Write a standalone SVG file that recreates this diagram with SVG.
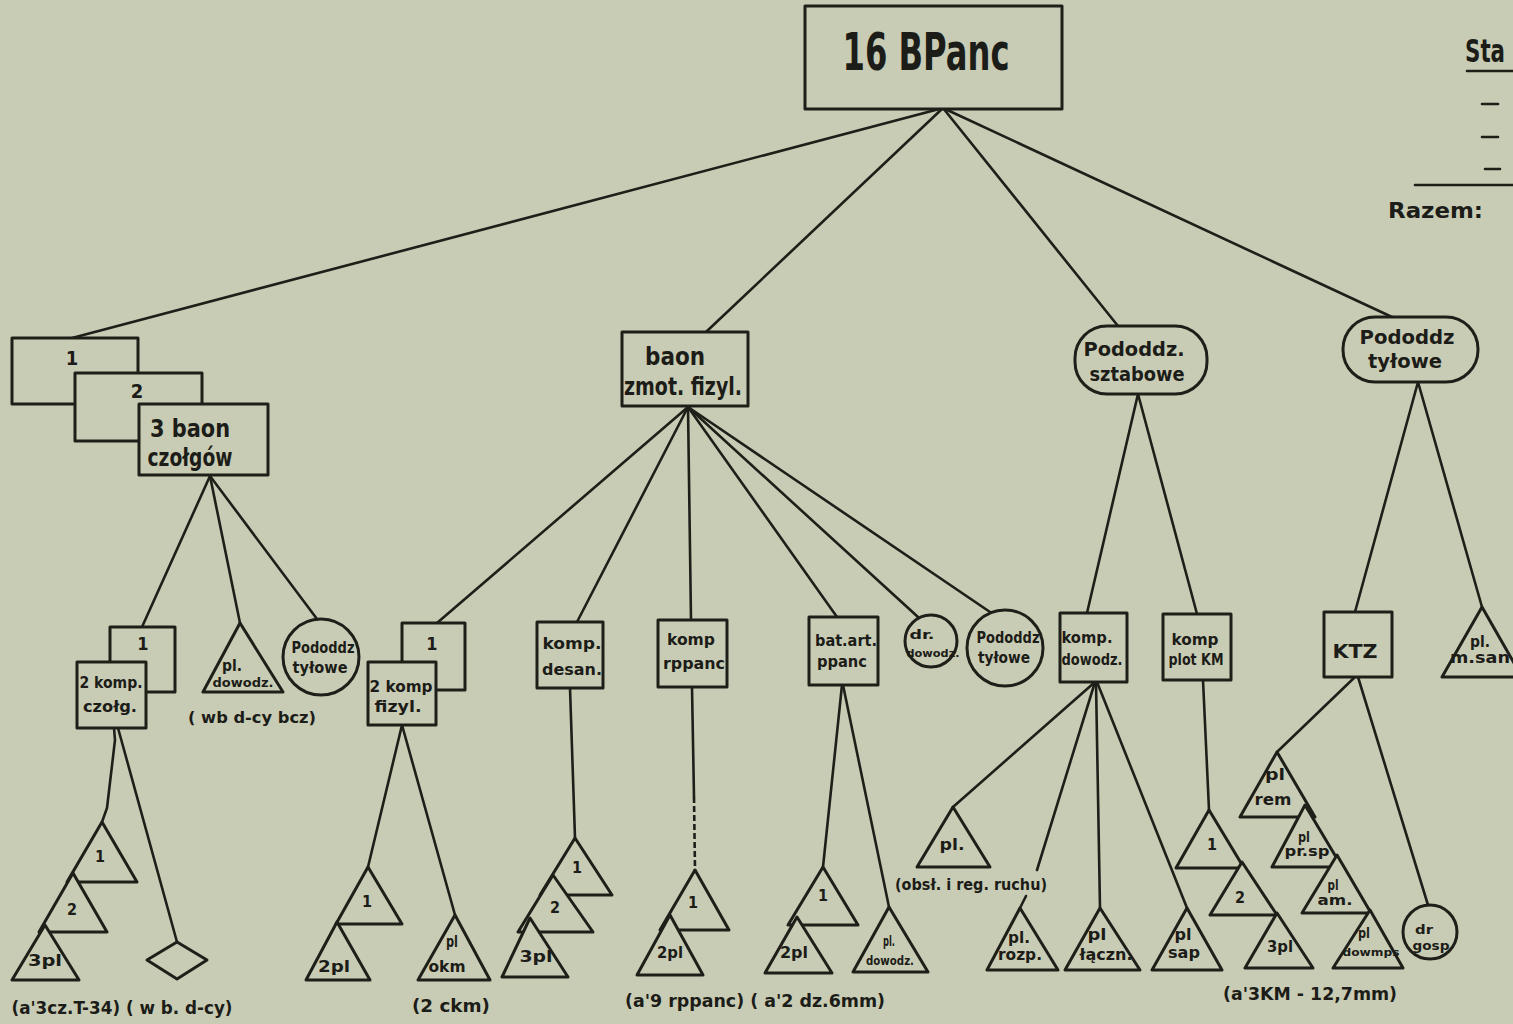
<svg xmlns="http://www.w3.org/2000/svg" width="1513" height="1024" viewBox="0 0 1513 1024">
<style>
.t{font-family:"DejaVu Sans Condensed","DejaVu Sans",sans-serif;font-weight:bold;fill:#1c1c18;text-anchor:middle;}
.ts{font-family:"DejaVu Sans Condensed","DejaVu Sans",sans-serif;font-weight:bold;fill:#1c1c18;text-anchor:start;}
.sh{fill:#c9ccb4;stroke:#1f1f1a;stroke-width:3;stroke-linejoin:round;}
.ln{stroke:#1f1f1a;stroke-width:2.6;fill:none;stroke-linecap:round;}
</style>
<rect x="0" y="0" width="1513" height="1024" fill="#c9ccb4"/>

<g id="connectors" class="ln">
<line x1="943" y1="108" x2="72" y2="338"/>
<line x1="943" y1="108" x2="706" y2="332"/>
<line x1="943" y1="108" x2="1118" y2="326"/>
<line x1="943" y1="108" x2="1392" y2="317"/>
<line x1="210" y1="476" x2="142" y2="627"/>
<line x1="210" y1="476" x2="240" y2="623"/>
<line x1="210" y1="476" x2="317" y2="619"/>
<polyline points="114,728 115,740 107,808 102,822"/>
<line x1="118" y1="728" x2="177" y2="942"/>
<line x1="688" y1="407" x2="437" y2="623"/>
<line x1="688" y1="407" x2="577" y2="622"/>
<line x1="688" y1="407" x2="691" y2="620"/>
<line x1="688" y1="407" x2="837" y2="617"/>
<line x1="688" y1="407" x2="918" y2="617"/>
<line x1="688" y1="407" x2="990" y2="612"/>
<line x1="402" y1="725" x2="368" y2="867"/>
<line x1="402" y1="725" x2="455" y2="915"/>
<line x1="570" y1="688" x2="575" y2="838"/>
<line x1="692" y1="687" x2="694" y2="797"/>
<line x1="694" y1="797" x2="695" y2="870" stroke-dasharray="6 3" stroke-linecap="butt"/>
<line x1="842" y1="685" x2="823" y2="867"/>
<line x1="843" y1="685" x2="889" y2="907"/>
<line x1="1138" y1="394" x2="1087" y2="613"/>
<line x1="1138" y1="394" x2="1197" y2="614"/>
<line x1="1095" y1="682" x2="953" y2="807"/>
<line x1="1095" y1="682" x2="1037" y2="870"/>
<line x1="1026" y1="896" x2="1020" y2="908"/>
<line x1="1096" y1="682" x2="1100" y2="908"/>
<line x1="1097" y1="682" x2="1187" y2="908"/>
<line x1="1203" y1="680" x2="1209" y2="810"/>
<line x1="1418" y1="382" x2="1355" y2="612"/>
<line x1="1418" y1="382" x2="1482" y2="607"/>
<line x1="1355" y1="677" x2="1277" y2="752"/>
<line x1="1358" y1="677" x2="1428" y2="905"/>
</g>

<g id="n-16bpanc">
<rect class="sh" x="805" y="6" width="257" height="103"/>
<text class="t" x="926" y="70" font-size="52" textLength="167" lengthAdjust="spacingAndGlyphs">16 BPanc</text>
</g>

<g id="n-baon-czolgow">
<rect class="sh" x="12" y="338" width="126" height="66"/>
<text class="t" x="72" y="365" font-size="20">1</text>
<rect class="sh" x="75" y="373" width="127" height="68"/>
<text class="t" x="137" y="398" font-size="20">2</text>
<rect class="sh" x="139" y="404" width="129" height="71"/>
<text class="t" x="190" y="437" font-size="24" textLength="80" lengthAdjust="spacingAndGlyphs">3 baon</text>
<text class="t" x="190" y="466" font-size="24" textLength="85" lengthAdjust="spacingAndGlyphs">czołgów</text>
</g>

<g id="n-baon-zmot">
<rect class="sh" x="622" y="332" width="126" height="74"/>
<text class="t" x="675" y="365" font-size="25" textLength="60" lengthAdjust="spacingAndGlyphs">baon</text>
<text class="t" x="683" y="395" font-size="24" textLength="118" lengthAdjust="spacingAndGlyphs">zmot. fizyl.</text>
</g>

<g id="n-sztabowe">
<rect class="sh" x="1075" y="326" width="132" height="68" rx="32"/>
<text class="t" x="1134" y="356" font-size="20" textLength="101" lengthAdjust="spacingAndGlyphs">Pododdz.</text>
<text class="t" x="1137" y="381" font-size="20" textLength="95" lengthAdjust="spacingAndGlyphs">sztabowe</text>
</g>

<g id="n-tylowe">
<rect class="sh" x="1343" y="317" width="135" height="65" rx="32"/>
<text class="t" x="1407" y="344" font-size="20" textLength="95" lengthAdjust="spacingAndGlyphs">Pododdz</text>
<text class="t" x="1405" y="368" font-size="20" textLength="74" lengthAdjust="spacingAndGlyphs">tyłowe</text>
</g>

<g id="n-komp-czolg">
<rect class="sh" x="110" y="627" width="65" height="65"/>
<text class="t" x="143" y="650" font-size="18">1</text>
<rect class="sh" x="77" y="662" width="69" height="66"/>
<text class="t" x="111" y="688" font-size="16" textLength="63" lengthAdjust="spacingAndGlyphs">2 komp.</text>
<text class="t" x="110" y="712" font-size="16" textLength="54" lengthAdjust="spacingAndGlyphs">czołg.</text>
</g>

<g id="n-pl-dowodz-1">
<polygon class="sh" points="240,623 203,692 283,692"/>
<text class="t" x="232" y="671" font-size="16" textLength="20" lengthAdjust="spacingAndGlyphs">pl.</text>
<text class="t" x="243" y="687" font-size="13" textLength="61" lengthAdjust="spacingAndGlyphs">dowodz.</text>
<text class="t" x="252" y="723" font-size="15" textLength="128" lengthAdjust="spacingAndGlyphs">( wb d-cy bcz)</text>
</g>

<g id="n-tylowe-1">
<circle class="sh" cx="321" cy="657" r="38"/>
<text class="t" x="323" y="653" font-size="15" textLength="63" lengthAdjust="spacingAndGlyphs">Pododdz</text>
<text class="t" x="320" y="673" font-size="15" textLength="55" lengthAdjust="spacingAndGlyphs">tyłowe</text>
</g>

<g id="n-pl-czolg">
<polygon class="sh" points="102,822 67,882 137,882"/>
<text class="t" x="100" y="862" font-size="16">1</text>
<polygon class="sh" points="73,873 39,932 107,932"/>
<text class="t" x="72" y="915" font-size="16">2</text>
<polygon class="sh" points="45,925 12,980 79,980"/>
<text class="t" x="45" y="966" font-size="16" textLength="34" lengthAdjust="spacingAndGlyphs">3pl</text>
<text class="t" x="122" y="1014" font-size="17" textLength="221" lengthAdjust="spacingAndGlyphs">(a'3cz.T-34) ( w b. d-cy)</text>
</g>

<g id="n-wb-dcy">
<polygon class="sh" points="177,942 207,960 177,979 147,960"/>
</g>

<g id="n-komp-fizyl">
<rect class="sh" x="402" y="623" width="63" height="67"/>
<text class="t" x="432" y="650" font-size="18">1</text>
<rect class="sh" x="368" y="662" width="68" height="63"/>
<text class="t" x="401" y="692" font-size="16" textLength="63" lengthAdjust="spacingAndGlyphs">2 komp</text>
<text class="t" x="398" y="712" font-size="16" textLength="47" lengthAdjust="spacingAndGlyphs">fizyl.</text>
</g>

<g id="n-pl-fizyl">
<polygon class="sh" points="368,867 336,924 402,924"/>
<text class="t" x="367" y="907" font-size="16">1</text>
<polygon class="sh" points="337,922 306,980 370,980"/>
<text class="t" x="334" y="972" font-size="16" textLength="32" lengthAdjust="spacingAndGlyphs">2pl</text>
</g>

<g id="n-pl-okm">
<polygon class="sh" points="455,915 418,980 490,980"/>
<text class="t" x="452" y="947" font-size="15" textLength="12" lengthAdjust="spacingAndGlyphs">pl</text>
<text class="t" x="447" y="972" font-size="15" textLength="37" lengthAdjust="spacingAndGlyphs">okm</text>
<text class="t" x="451" y="1012" font-size="17" textLength="78" lengthAdjust="spacingAndGlyphs">(2 ckm)</text>
</g>

<g id="n-komp-desan">
<rect class="sh" x="537" y="622" width="66" height="66"/>
<text class="t" x="572" y="649" font-size="16" textLength="59" lengthAdjust="spacingAndGlyphs">komp.</text>
<text class="t" x="572" y="675" font-size="16" textLength="60" lengthAdjust="spacingAndGlyphs">desan.</text>
</g>

<g id="n-pl-desan">
<polygon class="sh" points="575,838 540,895 612,895"/>
<text class="t" x="577" y="873" font-size="16">1</text>
<polygon class="sh" points="553,875 518,932 593,932"/>
<text class="t" x="555" y="913" font-size="16">2</text>
<polygon class="sh" points="530,918 502,977 568,977"/>
<text class="t" x="536" y="962" font-size="16" textLength="33" lengthAdjust="spacingAndGlyphs">3pl</text>
</g>

<g id="n-komp-rppanc">
<rect class="sh" x="658" y="620" width="69" height="67"/>
<text class="t" x="691" y="645" font-size="16" textLength="48" lengthAdjust="spacingAndGlyphs">komp</text>
<text class="t" x="694" y="669" font-size="16" textLength="62" lengthAdjust="spacingAndGlyphs">rppanc</text>
</g>

<g id="n-pl-rppanc">
<polygon class="sh" points="695,870 660,930 729,930"/>
<text class="t" x="693" y="908" font-size="16">1</text>
<polygon class="sh" points="670,915 637,975 703,975"/>
<text class="t" x="670" y="958" font-size="16" textLength="26" lengthAdjust="spacingAndGlyphs">2pl</text>
<text class="t" x="755" y="1007" font-size="17" textLength="260" lengthAdjust="spacingAndGlyphs">(a'9 rppanc) ( a'2 dz.6mm)</text>
</g>

<g id="n-bat-art">
<rect class="sh" x="809" y="617" width="69" height="68"/>
<text class="t" x="846" y="646" font-size="16" textLength="62" lengthAdjust="spacingAndGlyphs">bat.art.</text>
<text class="t" x="842" y="667" font-size="16" textLength="50" lengthAdjust="spacingAndGlyphs">ppanc</text>
</g>

<g id="n-pl-bat">
<polygon class="sh" points="823,867 788,925 858,925"/>
<text class="t" x="823" y="901" font-size="16">1</text>
<polygon class="sh" points="797,917 765,973 832,973"/>
<text class="t" x="794" y="958" font-size="16" textLength="28" lengthAdjust="spacingAndGlyphs">2pl</text>
</g>

<g id="n-pl-dowodz-bat">
<polygon class="sh" points="889,907 853,972 928,972"/>
<text class="t" x="889" y="946" font-size="14" textLength="12" lengthAdjust="spacingAndGlyphs">pl.</text>
<text class="t" x="890" y="965" font-size="12" textLength="48" lengthAdjust="spacingAndGlyphs">dowodz.</text>
</g>

<g id="n-dr-dowodz">
<circle class="sh" cx="931" cy="641" r="26"/>
<text class="t" x="922" y="639" font-size="13" textLength="25" lengthAdjust="spacingAndGlyphs">dr.</text>
<text class="t" x="933" y="657" font-size="11" textLength="53" lengthAdjust="spacingAndGlyphs">dowodz.</text>
</g>

<g id="n-tylowe-2">
<circle class="sh" cx="1005" cy="648" r="38"/>
<text class="t" x="1008" y="643" font-size="15" textLength="63" lengthAdjust="spacingAndGlyphs">Pododdz</text>
<text class="t" x="1004" y="663" font-size="15" textLength="52" lengthAdjust="spacingAndGlyphs">tyłowe</text>
</g>

<g id="n-komp-dowodz">
<rect class="sh" x="1060" y="613" width="67" height="69"/>
<text class="t" x="1087" y="643" font-size="15" textLength="51" lengthAdjust="spacingAndGlyphs">komp.</text>
<text class="t" x="1092" y="665" font-size="15" textLength="61" lengthAdjust="spacingAndGlyphs">dowodz.</text>
</g>

<g id="n-pl-obsl">
<polygon class="sh" points="953,807 917,867 990,867"/>
<text class="t" x="952" y="850" font-size="15" textLength="25" lengthAdjust="spacingAndGlyphs">pl.</text>
<text class="t" x="971" y="890" font-size="15" textLength="152" lengthAdjust="spacingAndGlyphs">(obsł. i reg. ruchu)</text>
</g>

<g id="n-pl-rozp">
<polygon class="sh" points="1020,908 987,970 1058,970"/>
<text class="t" x="1019" y="943" font-size="15" textLength="22" lengthAdjust="spacingAndGlyphs">pl.</text>
<text class="t" x="1020" y="960" font-size="15" textLength="44" lengthAdjust="spacingAndGlyphs">rozp.</text>
</g>

<g id="n-pl-laczn">
<polygon class="sh" points="1100,908 1065,970 1140,970"/>
<text class="t" x="1097" y="940" font-size="15" textLength="19" lengthAdjust="spacingAndGlyphs">pl</text>
<text class="t" x="1106" y="960" font-size="15" textLength="53" lengthAdjust="spacingAndGlyphs">łączn.</text>
</g>

<g id="n-pl-sap">
<polygon class="sh" points="1187,908 1152,970 1222,970"/>
<text class="t" x="1183" y="940" font-size="15" textLength="17" lengthAdjust="spacingAndGlyphs">pl</text>
<text class="t" x="1184" y="958" font-size="15" textLength="32" lengthAdjust="spacingAndGlyphs">sap</text>
</g>

<g id="n-komp-plot">
<rect class="sh" x="1163" y="614" width="68" height="66"/>
<text class="t" x="1195" y="645" font-size="15" textLength="47" lengthAdjust="spacingAndGlyphs">komp</text>
<text class="t" x="1196" y="665" font-size="15" textLength="55" lengthAdjust="spacingAndGlyphs">plot KM</text>
</g>

<g id="n-pl-plot">
<polygon class="sh" points="1209,810 1176,868 1244,868"/>
<text class="t" x="1212" y="850" font-size="16">1</text>
<polygon class="sh" points="1242,862 1210,915 1277,915"/>
<text class="t" x="1240" y="903" font-size="16">2</text>
<polygon class="sh" points="1277,913 1245,968 1313,968"/>
<text class="t" x="1280" y="952" font-size="16" textLength="26" lengthAdjust="spacingAndGlyphs">3pl</text>
<text class="t" x="1310" y="1000" font-size="17" textLength="174" lengthAdjust="spacingAndGlyphs">(a'3KM - 12,7mm)</text>
</g>

<g id="n-ktz">
<rect class="sh" x="1324" y="612" width="68" height="65"/>
<text class="t" x="1355" y="658" font-size="20" textLength="45" lengthAdjust="spacingAndGlyphs">KTZ</text>
</g>

<g id="n-pl-ktz">
<polygon class="sh" points="1277,752 1240,817 1315,817"/>
<text class="t" x="1275" y="780" font-size="15" textLength="20" lengthAdjust="spacingAndGlyphs">pl</text>
<text class="t" x="1273" y="805" font-size="15" textLength="37" lengthAdjust="spacingAndGlyphs">rem</text>
<polygon class="sh" points="1305,805 1272,867 1342,867"/>
<text class="t" x="1304" y="842" font-size="14" textLength="12" lengthAdjust="spacingAndGlyphs">pl</text>
<text class="t" x="1307" y="856" font-size="14" textLength="45" lengthAdjust="spacingAndGlyphs">pr.sp</text>
<polygon class="sh" points="1337,855 1302,913 1371,913"/>
<text class="t" x="1333" y="890" font-size="14" textLength="11" lengthAdjust="spacingAndGlyphs">pl</text>
<text class="t" x="1335" y="905" font-size="14" textLength="35" lengthAdjust="spacingAndGlyphs">am.</text>
<polygon class="sh" points="1370,910 1333,968 1403,968"/>
<text class="t" x="1364" y="938" font-size="14" textLength="12" lengthAdjust="spacingAndGlyphs">pl</text>
<text class="t" x="1371" y="956" font-size="11" textLength="57" lengthAdjust="spacingAndGlyphs">dowmps</text>
</g>

<g id="n-dr-gosp">
<circle class="sh" cx="1430" cy="932" r="27"/>
<text class="t" x="1424" y="934" font-size="13" textLength="18" lengthAdjust="spacingAndGlyphs">dr</text>
<text class="t" x="1431" y="950" font-size="13" textLength="37" lengthAdjust="spacingAndGlyphs">gosp</text>
</g>

<g id="n-pl-msan">
<polygon class="sh" points="1482,607 1442,677 1522,677"/>
<text class="t" x="1480" y="647" font-size="15" textLength="20" lengthAdjust="spacingAndGlyphs">pl.</text>
<text class="t" x="1480" y="663" font-size="15" textLength="60" lengthAdjust="spacingAndGlyphs">m.san</text>
</g>

<g id="legend">
<text class="ts" x="1465" y="62" font-size="32" textLength="40" lengthAdjust="spacingAndGlyphs">Sta</text>
<line class="ln" x1="1467" y1="71" x2="1513" y2="71" stroke-width="3.5"/>
<line class="ln" x1="1482" y1="104" x2="1498" y2="104" stroke-width="3.5"/>
<line class="ln" x1="1482" y1="137" x2="1498" y2="137" stroke-width="3.5"/>
<line class="ln" x1="1485" y1="169" x2="1500" y2="169" stroke-width="3.5"/>
<line class="ln" x1="1415" y1="185" x2="1513" y2="185" stroke-width="3.5"/>
<text class="ts" x="1388" y="218" font-size="22" textLength="95" lengthAdjust="spacingAndGlyphs">Razem:</text>
</g>
</svg>
